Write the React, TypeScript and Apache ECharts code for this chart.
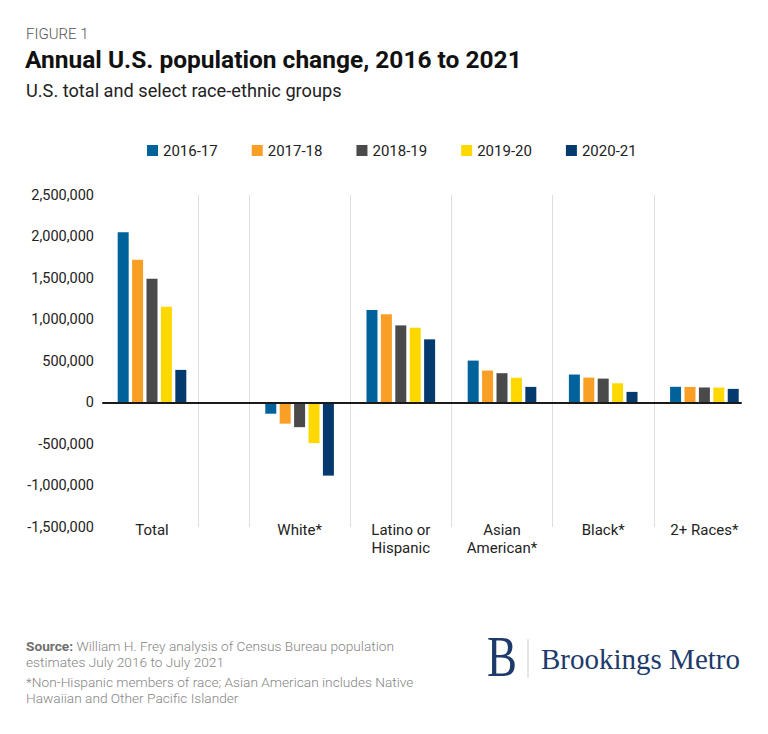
import React, { useEffect, useRef } from "react";
import * as echarts from "echarts";

const years = ["2016-17", "2017-18", "2018-19", "2019-20", "2020-21"];
const groups = ["Total", "White*", "Latino or\nHispanic", "Asian\nAmerican*", "Black*", "2+ Races*"];
const change2016_17 = [2050000, -135000, 1115000, 505000, 337000, 189000];
const change2017_18 = [1720000, -255000, 1062000, 385000, 300000, 187000];
const change2018_19 = [1490000, -297000, 929000, 353000, 288000, 181000];
const change2019_20 = [1155000, -489000, 901000, 297000, 232000, 180000];
const change2020_21 = [393000, -881000, 761000, 188000, 128000, 164000];
const seriesValues = [change2016_17, change2017_18, change2018_19, change2019_20, change2020_21];
const colors = ["#00629B", "#F99F25", "#4A4A4A", "#FFD800", "#053A6E"];
const yMin = -1500000;
const yMax = 2500000;
const yStep = 500000;

const FONT = "Roboto, 'Noto Sans', sans-serif";
const SERIF = "'Liberation Serif', 'DejaVu Serif', serif";

export default function App() {
  const ref = useRef<HTMLDivElement>(null);
  useEffect(() => {
    document.body.style.margin = "0";
    const chart = echarts.init(ref.current!, undefined, { renderer: "svg" });
    const top = 195;
    const bottom = 734 - 527;
    const yBase = { type: "value", min: yMin, max: yMax, interval: yStep };
    const series: any[] = [];
    seriesValues.forEach((vals, i) => {
      const common = {
        type: "bar",
        name: years[i],
        barWidth: 11,
        barGap: "31%",
        itemStyle: { color: colors[i] },
      };
      series.push({ ...common, xAxisIndex: 1, yAxisIndex: 1, data: vals.slice(0, 1) });
      series.push({ ...common, xAxisIndex: 2, yAxisIndex: 2, data: vals.slice(1) });
    });
    const catLabel = {
      interval: 0,
      color: "#222",
      fontFamily: FONT,
      fontSize: 15,
      lineHeight: 18,
      margin: -6,
    };
    const option: any = {
      animation: false,
      color: colors,
      legend: {
        data: years,
        left: 147,
        top: 143,
        padding: 0,
        icon: "rect",
        itemWidth: 11,
        itemHeight: 11,
        itemGap: 34,
        textStyle: { fontFamily: FONT, fontSize: 15, color: "#222" },
      },
      grid: [
        { left: 103, right: 768 - 741, top, bottom },
        { left: 106, width: 92, top, bottom },
        { left: 249, right: 13, top, bottom },
      ],
      xAxis: [
        {
          type: "value",
          gridIndex: 0,
          min: 0,
          max: 1,
          z: 10,
          axisLine: { show: true, onZero: true, lineStyle: { color: "#1a1a1a", width: 2 } },
          axisTick: { show: false },
          axisLabel: { show: false },
          splitLine: { show: false },
        },
        {
          type: "category",
          gridIndex: 1,
          data: groups.slice(0, 1),
          axisLine: { show: false, onZero: false },
          axisTick: { show: false },
          axisLabel: catLabel,
          splitLine: {
            show: true,
            interval: 0,
            showMinLine: false,
            showMaxLine: true,
            lineStyle: { color: "#dedede", width: 1 },
          },
        },
        {
          type: "category",
          gridIndex: 2,
          data: groups.slice(1),
          axisLine: { show: false, onZero: false },
          axisTick: { show: false },
          axisLabel: catLabel,
          splitLine: {
            show: true,
            interval: 0,
            showMinLine: true,
            showMaxLine: false,
            lineStyle: { color: "#dedede", width: 1 },
          },
        },
      ],
      yAxis: [
        {
          ...yBase,
          gridIndex: 0,
          axisLine: { show: false },
          axisTick: { show: false },
          splitLine: { show: false },
          axisLabel: {
            margin: 9,
            color: "#222",
            fontFamily: FONT,
            fontSize: 14.5,
            formatter: (v: number) => v.toLocaleString("en-US"),
          },
        },
        { ...yBase, gridIndex: 1, show: false, splitLine: { show: false } },
        { ...yBase, gridIndex: 2, show: false, splitLine: { show: false } },
      ],
      series,
      graphic: [
        {
          type: "text",
          left: 26,
          top: 26,
          style: { text: "FIGURE 1", fontFamily: FONT, fontSize: 15, fontWeight: 300, fill: "#555" },
        },
        {
          type: "text",
          left: 25,
          top: 47,
          style: {
            text: "Annual U.S. population change, 2016 to 2021",
            fontFamily: FONT,
            fontSize: 24.5,
            fontWeight: "bold",
            fill: "#111",
          },
        },
        {
          type: "text",
          left: 26,
          top: 81,
          style: {
            text: "U.S. total and select race-ethnic groups",
            fontFamily: FONT,
            fontSize: 18.2,
            fill: "#222",
          },
        },
        {
          type: "text",
          left: 26,
          top: 638,
          style: {
            text: "{b|Source:} William H. Frey analysis of Census Bureau population\nestimates July 2016 to July 2021",
            fontFamily: FONT,
            fontSize: 13.7,
            fontWeight: 300,
            lineHeight: 16,
            fill: "#858585",
            rich: {
              b: { fontFamily: FONT, fontSize: 13.7, fontWeight: "bold", fill: "#707070", lineHeight: 16 },
            },
          },
        },
        {
          type: "text",
          left: 26,
          top: 674,
          style: {
            text: "*Non-Hispanic members of race; Asian American includes Native\nHawaiian and Other Pacific Islander",
            fontFamily: FONT,
            fontSize: 13.7,
            fontWeight: 300,
            lineHeight: 16,
            fill: "#858585",
          },
        },
        {
          type: "text",
          x: 487,
          y: 685,
          scaleX: 0.8,
          style: {
            text: "B",
            fontFamily: SERIF,
            fontSize: 56,
            fill: "#1d3a6a",
            verticalAlign: "bottom",
          },
        },
        {
          type: "line",
          shape: { x1: 528, y1: 639, x2: 528, y2: 678 },
          style: { stroke: "#cfcfcf", lineWidth: 1 },
        },
        {
          type: "text",
          x: 541,
          y: 659,
          style: {
            text: "Brookings Metro",
            fontFamily: SERIF,
            fontSize: 29,
            fill: "#1d3a6a",
            verticalAlign: "middle",
          },
        },
      ],
    };
    chart.setOption(option);
    return () => chart.dispose();
  }, []);
  return <div ref={ref} style={{ width: 768, height: 734 }} />;
}
